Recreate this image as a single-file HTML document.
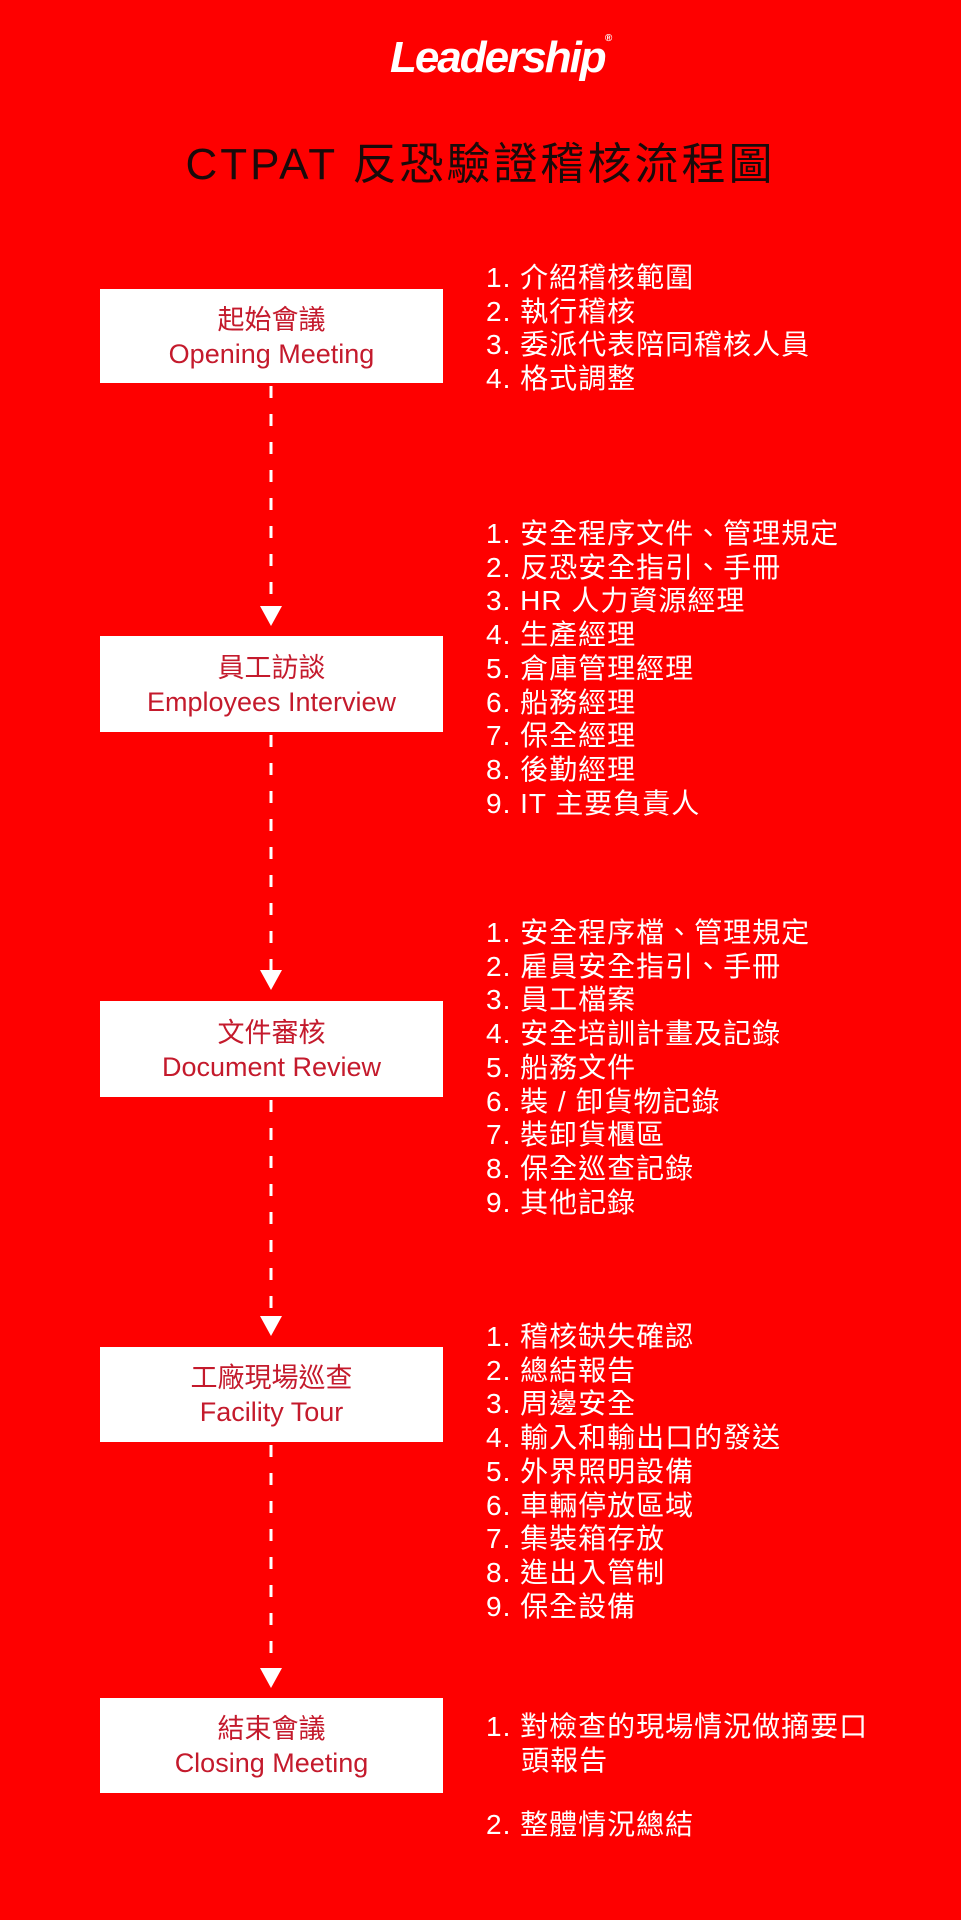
<!DOCTYPE html>
<html><head><meta charset="utf-8"><style>
body{margin:0;width:961px;height:1920px;background:#fe0000;position:relative;overflow:hidden;font-family:"Liberation Sans","Noto Sans CJK TC",sans-serif;}
.a{position:absolute;}
.logo{left:0;width:1000px;text-align:center;top:33px;font:italic bold 44px "Liberation Sans",sans-serif;color:#fff;letter-spacing:-2px;}
.title{left:0;width:961px;text-align:center;top:128px;font-size:44px;color:#1a0a0a;letter-spacing:3px;font-family:"Liberation Sans","Noto Sans CJK TC",sans-serif;}
.box{position:absolute;left:100px;width:343px;background:#fff;color:#c41a2c;text-align:center;font-size:27px;}
.box div{line-height:34px;}
.list{position:absolute;left:486px;color:#fff;font-size:28px;line-height:33.7px;letter-spacing:1px;white-space:nowrap;}
</style></head><body>
<div class="a logo">Leadership<span style="font-size:10px;vertical-align:top">®</span></div>
<div class="a title">CTPAT 反恐驗證稽核流程圖</div>

<svg class="a" style="left:0;top:0" width="961" height="1920">
<g stroke="#fff" stroke-width="3" stroke-dasharray="12 16">
<line x1="271" y1="386" x2="271" y2="612"/>
<line x1="271" y1="735" x2="271" y2="978"/>
<line x1="271" y1="1100" x2="271" y2="1324"/>
<line x1="271" y1="1445" x2="271" y2="1676"/>
</g>
<g fill="#fff">
<polygon points="260,606 282,606 271,626"/>
<polygon points="260,970 282,970 271,990"/>
<polygon points="260,1316 282,1316 271,1336"/>
<polygon points="260,1668 282,1668 271,1688"/>
</g>
</svg>

<div class="box" style="top:289px;height:94px"><div style="margin-top:14px">起始會議</div><div>Opening Meeting</div></div>
<div class="box" style="top:636px;height:96px"><div style="margin-top:15px">員工訪談</div><div>Employees Interview</div></div>
<div class="box" style="top:1001px;height:96px"><div style="margin-top:15px">文件審核</div><div>Document Review</div></div>
<div class="box" style="top:1347px;height:95px"><div style="margin-top:14px">工廠現場巡查</div><div>Facility Tour</div></div>
<div class="box" style="top:1698px;height:95px"><div style="margin-top:14px">結束會議</div><div>Closing Meeting</div></div>

<div class="list" style="top:261px">1. 介紹稽核範圍<br>2. 執行稽核<br>3. 委派代表陪同稽核人員<br>4. 格式調整</div>
<div class="list" style="top:517px">1. 安全程序文件、管理規定<br>2. 反恐安全指引、手冊<br>3. HR 人力資源經理<br>4. 生產經理<br>5. 倉庫管理經理<br>6. 船務經理<br>7. 保全經理<br>8. 後勤經理<br>9. IT 主要負責人</div>
<div class="list" style="top:916px">1. 安全程序檔、管理規定<br>2. 雇員安全指引、手冊<br>3. 員工檔案<br>4. 安全培訓計畫及記錄<br>5. 船務文件<br>6. 裝 / 卸貨物記錄<br>7. 裝卸貨櫃區<br>8. 保全巡查記錄<br>9. 其他記錄</div>
<div class="list" style="top:1320px">1. 稽核缺失確認<br>2. 總結報告<br>3. 周邊安全<br>4. 輸入和輸出口的發送<br>5. 外界照明設備<br>6. 車輛停放區域<br>7. 集裝箱存放<br>8. 進出入管制<br>9. 保全設備</div>
<div class="list" style="top:1710px">1. 對檢查的現場情況做摘要口<br>&nbsp;&nbsp;&nbsp;&nbsp;頭報告</div>
<div class="list" style="top:1808px">2. 整體情況總結</div>
</body></html>
